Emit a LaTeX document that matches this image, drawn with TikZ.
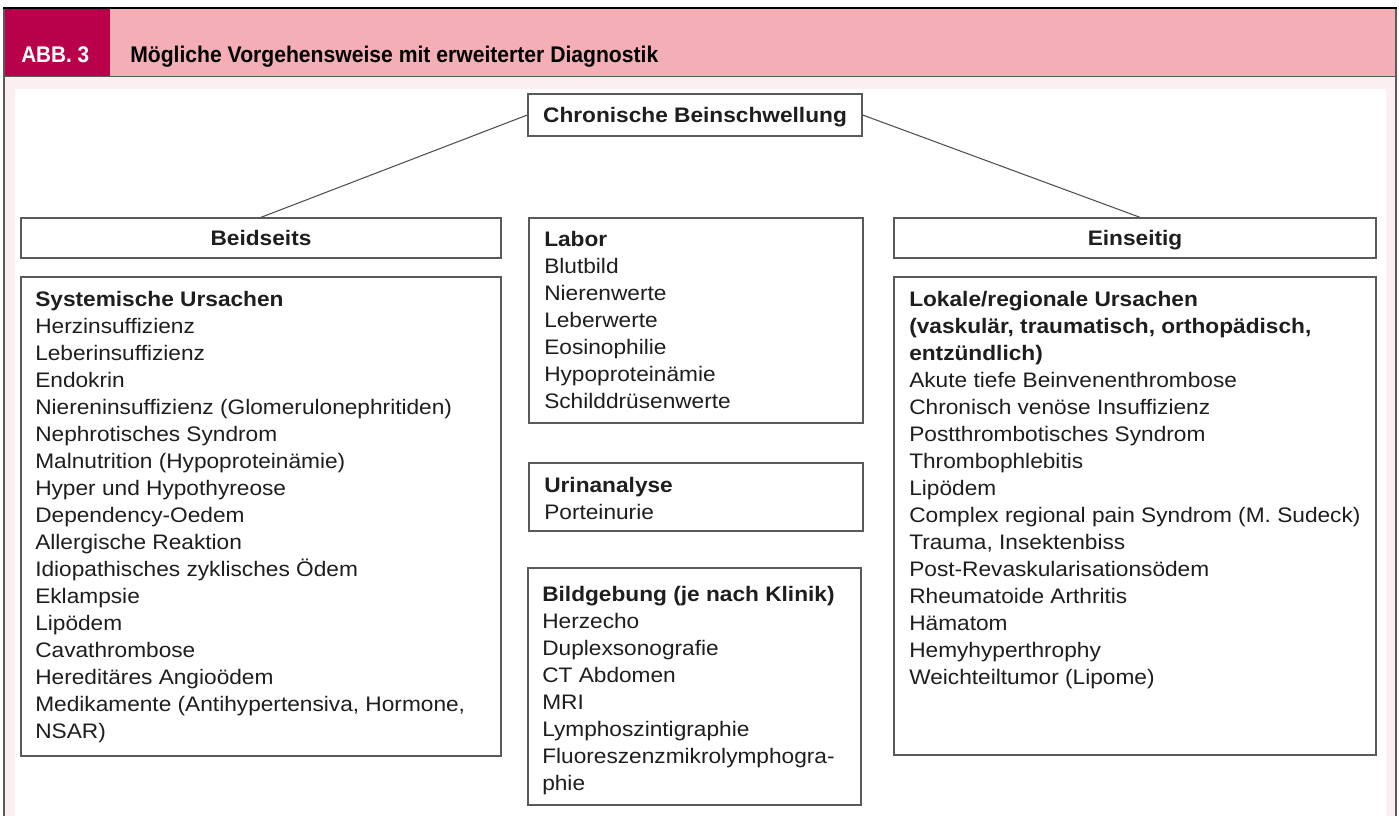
\documentclass[tikz,border=0pt]{standalone}
\usepackage{fontspec}
\setmainfont{Liberation Sans}[FakeStretch=1.08]
\newfontfamily\titlefont{Liberation Sans}
\usepackage{graphicx}
\usetikzlibrary{fit}
\definecolor{hdpink}{HTML}{F3AEB6}
\definecolor{hdmag}{HTML}{B9004B}
\definecolor{palepink}{HTML}{FCEFF1}
\definecolor{boxgray}{HTML}{5A5A5A}
\definecolor{txt}{HTML}{1E1E1E}
\newcommand\fsz{\fontsize{15.75pt}{20.25pt}\selectfont}
\newcommand\sst{\rule{0pt}{15pt}}
\begin{document}
\begin{tikzpicture}[x=0.75pt,y=-0.75pt,
  box/.style={draw=boxgray, line width=1pt, fill=white, inner sep=0pt},
  tx/.style={anchor=north west, inner sep=0pt, align=left, font=\fsz, text=txt},
  hd/.style={font=\fsz\bfseries, text=txt, inner sep=0pt, anchor=base},
  conn/.style={draw=boxgray!90!black, line width=0.8pt}]
\useasboundingbox (0,0) rectangle (1399,816);
\fill[white] (0,0) rectangle (1399,816);
% frame and header
\fill[palepink] (4,77) rectangle (1396,816);
\fill[white] (15,89) rectangle (1386,816);
\fill[hdpink] (4,9) rectangle (1396,76);
\fill[hdmag] (4,9) rectangle (110,76);
\draw[boxgray, line width=0.8pt] (4,76.5) -- (1396,76.5);
\draw[boxgray, line width=1pt] (4,9) -- (4,816);
\draw[boxgray, line width=1pt] (1396,9) -- (1396,816);
\draw[black, line width=1.5pt] (3,8.5) -- (1397,8.5);
\node[anchor=base west, inner sep=0pt, text=white, font=\titlefont\fontsize{17pt}{20pt}\selectfont\bfseries] (abb) at (21,62.5) {\resizebox{51pt}{\height}{ABB. 3}};
\node[anchor=base west, inner sep=0pt, text=black, font=\titlefont\fontsize{17pt}{20pt}\selectfont\bfseries] (title) at (130,62.5) {\resizebox{396pt}{\height}{Mögliche Vorgehensweise mit erweiterter Diagnostik}};
% boxes
\node[box, fit={(528,94) (862,136)}] (chron) {};
\node[box, fit={(21,218) (501,258)}] (beid) {};
\node[box, fit={(21,277) (501,756)}] (sys) {};
\node[box, fit={(529,218) (863,423)}] (labor) {};
\node[box, fit={(529,463) (863,531)}] (urin) {};
\node[box, fit={(528,568) (861,805)}] (bild) {};
\node[box, fit={(894,218) (1376,258)}] (ein) {};
\node[box, fit={(894,277) (1376,755)}] (lok) {};
% connectors
\draw[conn] (chron.west) -- (beid.north);
\draw[conn] (chron.east) -- ([xshift=3.75pt]ein.north);
% headings
\node[hd] (chront) at (695,123) {Chronische Beinschwellung};
\node[hd] (beidt) at (261,246) {Beidseits};
\node[hd] (eint) at (1135,246) {Einseitig};
% texts
\node[tx] (syst) at (35,286) {\sst\textbf{Systemische Ursachen}\\Herzinsuffizienz\\Leberinsuffizienz\\Endokrin\\Niereninsuffizienz (Glomerulonephritiden)\\Nephrotisches Syndrom\\Malnutrition (Hypoproteinämie)\\Hyper und Hypothyreose\\Dependency-Oedem\\Allergische Reaktion\\Idiopathisches zyklisches Ödem\\Eklampsie\\Lipödem\\Cavathrombose\\Hereditäres Angioödem\\Medikamente (Antihypertensiva, Hormone,\\NSAR)};
\node[tx] (labt) at (544,226.5) {\sst\textbf{Labor}\\Blutbild\\Nierenwerte\\Leberwerte\\Eosinophilie\\Hypoproteinämie\\Schilddrüsenwerte};
\node[tx] (urint) at (544,472.5) {\sst\textbf{Urinanalyse}\\Porteinurie};
\node[tx] (bildt) at (542,581) {\sst\textbf{Bildgebung (je nach Klinik)}\\Herzecho\\Duplexsonografie\\CT Abdomen\\MRI\\Lymphoszintigraphie\\Fluoreszenzmikrolymphogra-\\phie};
\node[tx] (lokt) at (909,286) {\sst\textbf{Lokale/regionale Ursachen}\\\textbf{(vaskulär, traumatisch, orthopädisch,}\\\textbf{entzündlich)}\\Akute tiefe Beinvenenthrombose\\Chronisch venöse Insuffizienz\\Postthrombotisches Syndrom\\Thrombophlebitis\\Lipödem\\Complex regional pain Syndrom (M. Sudeck)\\Trauma, Insektenbiss\\Post-Revaskularisationsödem\\Rheumatoide Arthritis\\Hämatom\\Hemyhyperthrophy\\Weichteiltumor (Lipome)};
\end{tikzpicture}
\end{document}
